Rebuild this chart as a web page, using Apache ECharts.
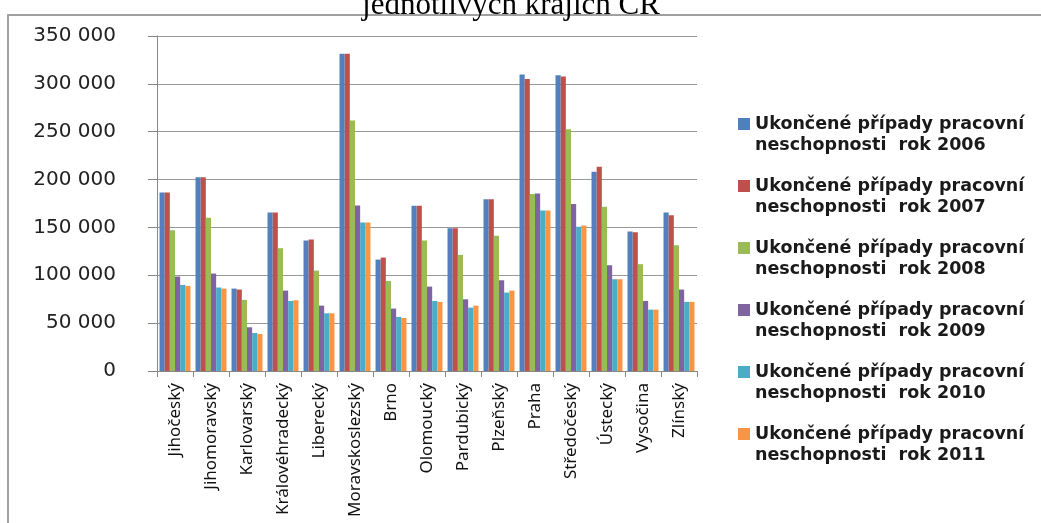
<!DOCTYPE html>
<html>
<head>
<meta charset="utf-8">
<script src="https://cdn.jsdelivr.net/npm/echarts@6/dist/echarts.min.js"></script>
<style>
html,body{margin:0;padding:0;background:#fff;}
#chart{width:1041px;height:523px;}
</style>
</head>
<body>
<div id="chart"></div>
<script>
var categories = ["Jihočeský","Jihomoravský","Karlovarský","Královéhradecký","Liberecký","Moravskoslezský","Brno","Olomoucký","Pardubický","Plzeňský","Praha","Středočeský","Ústecký","Vysočina","Zlínský"];
var seriesNames = [
  "Ukončené případy pracovní neschopnosti  rok 2006",
  "Ukončené případy pracovní neschopnosti  rok 2007",
  "Ukončené případy pracovní neschopnosti  rok 2008",
  "Ukončené případy pracovní neschopnosti  rok 2009",
  "Ukončené případy pracovní neschopnosti  rok 2010",
  "Ukončené případy pracovní neschopnosti  rok 2011"
];
var rok2006 = [186500,202500,86100,165600,136300,331500,116400,172600,149200,179500,309900,308900,208100,145700,165600];
var rok2007 = [186500,202500,85100,165600,137300,331500,118500,172600,149200,179500,305000,307800,213300,145000,162800];
var rok2008 = [147100,160000,74300,128300,104900,261800,94100,136300,121300,141200,184800,252700,171500,111600,131400];
var rok2009 = [98700,101800,45700,84000,68300,172900,65200,88200,74900,94800,185500,174600,110500,73200,85100];
var rok2010 = [89900,87200,39700,73200,60300,155100,56500,73200,66200,81900,167700,150600,95900,64100,72200];
var rok2011 = [88900,86100,38700,73900,60300,155100,55400,72200,68300,84000,167700,152000,95900,64100,72200];
var yTicks = [0,50000,100000,150000,200000,250000,300000,350000];
var titleText = "jednotlivých krajích ČR";

var colors = ["#4F81BD","#C0504D","#9BBB59","#8064A2","#4BACC6","#F79646"];
var allData = [rok2006,rok2007,rok2008,rok2009,rok2010,rok2011];

function fmt(v){ return String(v).replace(/\B(?=(\d{3})+(?!\d))/g, " "); }

var chart = echarts.init(document.getElementById('chart'));
var series = allData.map(function(d,i){
  return {
    name: seriesNames[i],
    type: 'bar',
    data: d,
    barGap: '0%',
    barCategoryGap: '14%',
    itemStyle: {color: colors[i]},
    emphasis: {disabled: true}
  };
});
chart.setOption({
  animation: false,
  color: colors,
  graphic: [
    {type:'rect', shape:{x:8, y:15, width:1100, height:600}, style:{fill:'none', stroke:'#a0a0a0', lineWidth:2}, z:-1},
    {type:'text', style:{text:titleText, x:511, y:21, align:'center', verticalAlign:'bottom', font:'31px "Liberation Serif"', fill:'#000'}}
  ],
  grid: {left:157, right:344, top:36, bottom:152, containLabel:false},
  legend: {
    orient:'vertical',
    left:738, top:114,
    padding:0,
    itemWidth:12, itemHeight:42,
    itemGap:20,
    icon:'path://M0,0 M0,4 L12,4 L12,16 L0,16 Z M0,42',
    data: seriesNames,
    formatter: function(n){ return n.replace(' neschopnosti', '\nneschopnosti'); },
    textStyle:{fontFamily:'DejaVu Sans', fontWeight:'bold', fontSize:17.5, color:'#1a1a1a', lineHeight:21}
  },
  xAxis: {
    type:'category',
    data: categories,
    axisLine:{lineStyle:{color:'#888', width:1}},
    axisTick:{show:true, length:6, lineStyle:{color:'#888'}},
    axisLabel:{rotate:90, margin:12, fontFamily:'Noto Sans', fontSize:17, color:'#111', interval:0}
  },
  yAxis: {
    type:'value',
    min: yTicks[0], max: yTicks[yTicks.length-1], interval: 50000,
    axisLine:{show:true, lineStyle:{color:'#888'}},
    axisTick:{show:true, length:9, lineStyle:{color:'#888'}},
    splitLine:{lineStyle:{color:'#999', width:1}},
    axisLabel:{margin:41, fontFamily:'DejaVu Sans', fontSize:20, color:'#222', formatter: fmt}
  },
  series: series
});
</script>
</body>
</html>
